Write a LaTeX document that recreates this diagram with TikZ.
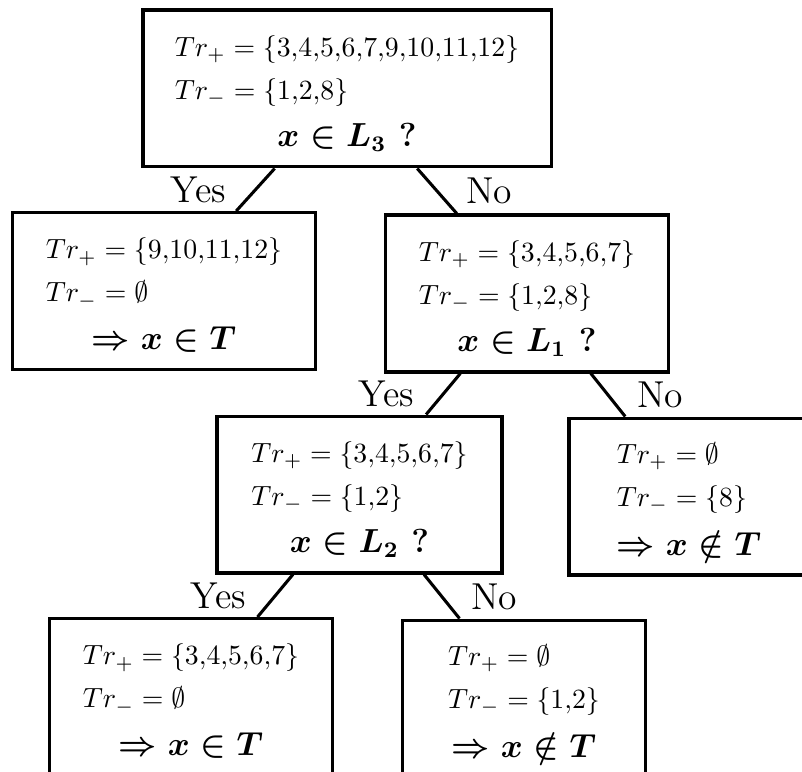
\documentclass[tikz,border=0pt]{standalone}
\usepackage{fontspec}
\usepackage{amsmath}

% one box of the tree: the two training sets and the test or the answer
\newcommand{\trbox}[3]{%
  \begin{tabular}{@{}l@{}}
    \rule{0pt}{13pt}$Tr_+=#1$\\[3.5pt]
    $Tr_-=#2$\\[5pt]
    \multicolumn{1}{@{}c@{}}{\large\bfseries\boldmath #3}
  \end{tabular}}

\begin{document}
\begin{tikzpicture}[x=0.36pt, y=-0.36pt, line width=1.1pt,
  box/.style={draw, rectangle, inner sep=0pt, minimum height=56.5pt},
  branch/.style={font=\fontsize{13.5}{16}\selectfont, inner sep=0pt}]
  \useasboundingbox (0,0) rectangle (802,772);

  \node[box, minimum width=146.9pt] (askLthree) at (347,88.5) {\trbox{\{3{,}4{,}5{,}6{,}7{,}9{,}10{,}11{,}12\}}{\{1{,}2{,}8\}}{$x\in L_3$ ?}};
  \node[box, minimum width=109.4pt] (inTone) at (164,291) {\trbox{\{9{,}10{,}11{,}12\}}{\emptyset}{$\Rightarrow x\in T$}};
  \node[box, minimum width=102.2pt] (askLone) at (527,293.5) {\trbox{\{3{,}4{,}5{,}6{,}7\}}{\{1{,}2{,}8\}}{$x\in L_1$ ?}};
  \node[box, minimum width=102.6pt] (askLtwo) at (359.5,494.5) {\trbox{\{3{,}4{,}5{,}6{,}7\}}{\{1{,}2\}}{$x\in L_2$ ?}};
  \node[box, minimum width=86.4pt] (notinTone) at (689,496.5) {\trbox{\emptyset}{\{8\}}{$\Rightarrow x\notin T$}};
  \node[box, minimum width=102.2pt] (inTtwo) at (191,697) {\trbox{\{3{,}4{,}5{,}6{,}7\}}{\emptyset}{$\Rightarrow x\in T$}};
  \node[box, minimum width=87.8pt] (notinTtwo) at (524,698.5) {\trbox{\emptyset}{\{1{,}2\}}{$\Rightarrow x\notin T$}};

  \draw (askLthree) -- node[midway, left=10pt, branch]{Yes} (inTone);
  \draw (askLthree) -- node[midway, right=10pt, branch]{No} (askLone);
  \draw (askLone) -- node[midway, left=10pt, branch]{Yes} (askLtwo);
  \draw (askLone) -- node[midway, right=10pt, branch]{No} (notinTone);
  \draw (askLtwo) -- node[midway, left=10pt, branch]{Yes} (inTtwo);
  \draw (askLtwo) -- node[midway, right=10pt, branch]{No} (notinTtwo);
\end{tikzpicture}
\end{document}
